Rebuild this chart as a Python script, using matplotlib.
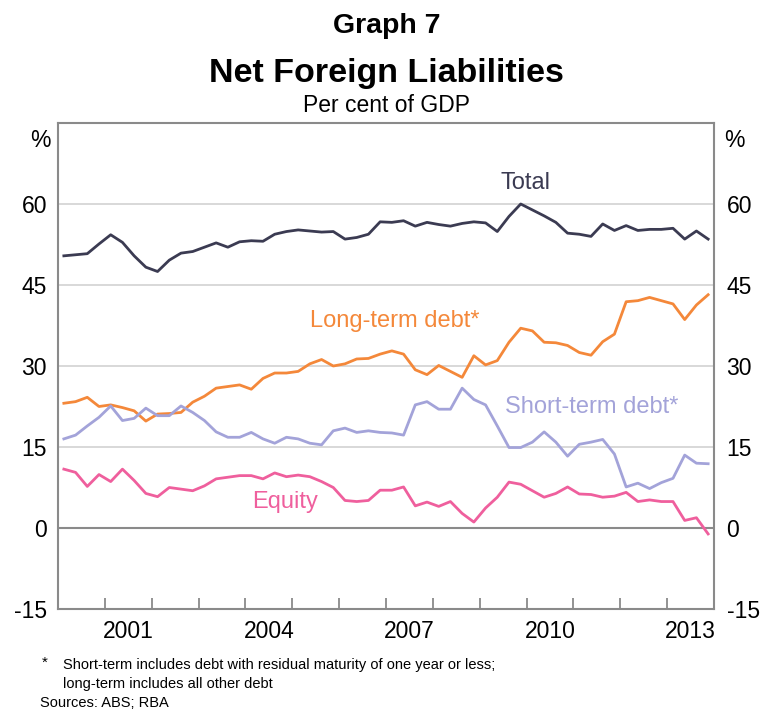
import matplotlib
matplotlib.use("Agg")
import matplotlib.pyplot as plt
import numpy as np
import pandas as pd

plt.rcParams['font.family'] = ['Liberation Sans', 'DejaVu Sans']

# quarterly observations, March 2000 to December 2013 (per cent of GDP)
quarters = pd.period_range('2000Q1', '2013Q4', freq='Q')

total = [50.4, 50.6, 50.8, 52.6, 54.3, 52.9, 50.4, 48.3, 47.5, 49.6,
         50.9, 51.2, 52.0, 52.8, 52.0, 53.0, 53.2, 53.1, 54.4, 54.9,
         55.2, 55.0, 54.8, 54.9, 53.5, 53.8, 54.4, 56.7, 56.6, 56.9,
         55.9, 56.6, 56.2, 55.9, 56.4, 56.7, 56.5, 54.9, 57.7, 60.0,
         58.9, 57.8, 56.6, 54.6, 54.4, 54.0, 56.3, 55.1, 56.0, 55.1,
         55.3, 55.3, 55.5, 53.5, 55.0, 53.5]

long_term = [23.1, 23.4, 24.2, 22.5, 22.8, 22.3, 21.7, 19.8, 21.1, 21.2,
             21.4, 23.3, 24.4, 25.9, 26.2, 26.5, 25.7, 27.7, 28.7, 28.7,
             29.0, 30.4, 31.2, 30.0, 30.4, 31.3, 31.4, 32.2, 32.8, 32.2,
             29.3, 28.4, 30.1, 29.0, 27.9, 31.9, 30.2, 31.0, 34.4, 37.0,
             36.5, 34.4, 34.3, 33.8, 32.5, 32.0, 34.5, 35.9, 41.9, 42.1,
             42.7, 42.1, 41.5, 38.6, 41.3, 43.2]

short_term = [16.5, 17.2, 18.9, 20.5, 22.6, 19.9, 20.3, 22.2, 20.8, 20.8,
              22.6, 21.4, 19.9, 17.8, 16.8, 16.8, 17.7, 16.5, 15.7, 16.8,
              16.5, 15.7, 15.4, 18.0, 18.5, 17.7, 18.0, 17.7, 17.6, 17.2,
              22.8, 23.4, 22.0, 22.0, 25.9, 23.8, 22.8, 18.9, 14.9, 14.9,
              15.9, 17.8, 15.9, 13.3, 15.5, 15.9, 16.4, 13.7, 7.6, 8.3,
              7.3, 8.4, 9.2, 13.5, 12.0, 11.9]

equity = [10.9, 10.3, 7.7, 9.9, 8.6, 10.9, 8.8, 6.4, 5.8, 7.5,
          7.2, 6.9, 7.8, 9.1, 9.4, 9.7, 9.7, 9.1, 10.2, 9.5,
          9.8, 9.5, 8.6, 7.5, 5.1, 4.9, 5.1, 7.0, 7.0, 7.6,
          4.1, 4.8, 4.0, 4.9, 2.7, 1.1, 3.7, 5.7, 8.5, 8.1,
          6.9, 5.7, 6.4, 7.6, 6.3, 6.2, 5.7, 5.9, 6.6, 4.9,
          5.2, 4.9, 4.9, 1.4, 1.9, -1.1]

year_labels = [2001, 2004, 2007, 2010, 2013]
y_ticks = [-15, 0, 15, 30, 45, 60]

# plot each quarter at its mid-point in decimal years
x = quarters.year + (quarters.quarter - 1) / 4 + 0.125

c_total = '#3b3b52'
c_long = '#f4883a'
c_short = '#a3a3d9'
c_equity = '#ef5f9d'
grey = '#8a8a8a'

fig = plt.figure(figsize=(7.61, 7.16), dpi=100)
ax = fig.add_axes([58 / 761, 1 - 609 / 716, (714 - 58) / 761, (609 - 123) / 716])

ax.set_xlim(2000, 2014)
ax.set_ylim(-15, 75)

for v in [15, 30, 45, 60]:
    ax.axhline(v, color='#d6d6d6', lw=1.3, zorder=1)
ax.axhline(0, color=grey, lw=1.5, zorder=1)

ax.plot(x, total, color=c_total, lw=2.0, zorder=3)
ax.plot(x, long_term, color=c_long, lw=2.0, zorder=3)
ax.plot(x, short_term, color=c_short, lw=2.0, zorder=3)
ax.plot(x, equity, color=c_equity, lw=2.0, zorder=3)

lab_kw = dict(fontsize=17, ha='center', va='center')
ax.text(2009.97, 63.9, 'Total', color=c_total, **lab_kw)
ax.text(2007.18, 38.3, 'Long-term debt*', color=c_long, **lab_kw)
ax.text(2011.4, 22.4, 'Short-term debt*', color=c_short, **lab_kw)
ax.text(2004.85, 4.9, 'Equity', color=c_equity, **lab_kw)

for s in ax.spines.values():
    s.set_color(grey)
    s.set_linewidth(1.5)

# year boundaries get the tick marks, labels sit mid-year
ax.set_xticks(np.arange(2001, 2014))
ax.set_xticklabels([])
ax.tick_params(axis='x', which='major', direction='in', length=8, width=1.3, color=grey)
ax.set_xticks([y + 0.5 for y in year_labels], minor=True)
ax.set_xticklabels([str(y) for y in year_labels], minor=True, fontsize=16.5)
ax.tick_params(axis='x', which='minor', length=0, pad=8)

ax.set_yticks(y_ticks)
ax.set_yticklabels([str(v) for v in y_ticks], fontsize=16.5)
ax.tick_params(axis='y', length=0, pad=8)

ax2 = ax.twinx()
ax2.set_ylim(ax.get_ylim())
ax2.set_yticks(y_ticks)
ax2.set_yticklabels([str(v) for v in y_ticks], fontsize=16.5)
ax2.tick_params(axis='y', length=0, pad=9)
for s in ax2.spines.values():
    s.set_visible(False)

ax.text(-0.012, 0.965, '%', transform=ax.transAxes, ha='right', va='center', fontsize=16.5)
ax.text(1.016, 0.965, '%', transform=ax.transAxes, ha='left', va='center', fontsize=16.5)

fig.text(0.508, 0.963, 'Graph 7', ha='center', va='center', fontsize=20.5, fontweight='bold')
fig.text(0.508, 0.898, 'Net Foreign Liabilities', ha='center', va='center', fontsize=24.5,
         fontweight='bold')
fig.text(0.508, 0.853, 'Per cent of GDP', ha='center', va='center', fontsize=16.5)

note_font = ['Liberation Sans Narrow', 'Liberation Sans', 'DejaVu Sans']
fig.text(42 / 761, 1 - 663 / 716, '*', ha='left', va='center', fontsize=11, family=note_font)
fig.text(63 / 761, 1 - 665 / 716,
         'Short-term includes debt with residual maturity of one year or less;',
         ha='left', va='center', fontsize=10.5, family=note_font)
fig.text(63 / 761, 1 - 684 / 716, 'long-term includes all other debt',
         ha='left', va='center', fontsize=10.5, family=note_font)
fig.text(40 / 761, 1 - 703 / 716, 'Sources: ABS; RBA', ha='left', va='center',
         fontsize=10.5, family=note_font)

fig.savefig('out.png', dpi=100)
